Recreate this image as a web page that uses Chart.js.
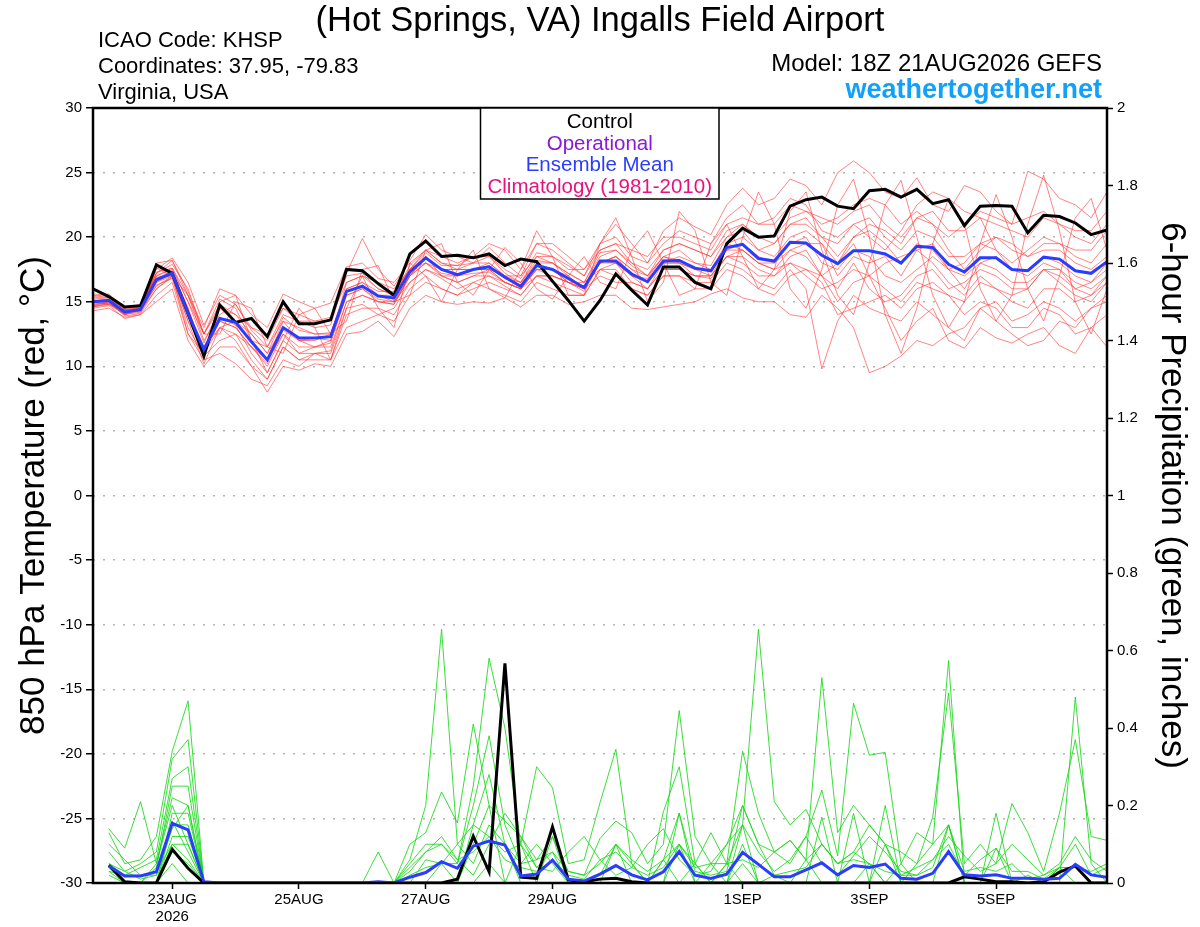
<!DOCTYPE html>
<html>
<head>
<meta charset="utf-8">
<title>KHSP GEFS plume</title>
<script src="https://cdn.jsdelivr.net/npm/chart.js@4.4.1/dist/chart.umd.min.js"></script>
<style>
  body { margin: 0; background: #fff; }
  #wrap { position: relative; width: 1200px; height: 927px; font-family: "Liberation Sans", Arial, sans-serif; }
  #wrap canvas { position: absolute; left: 0; top: 0; }
  .t { position: absolute; line-height: 1; white-space: nowrap; color: #000; }
</style>
</head>
<body>
<div id="wrap">
  <canvas id="plume" width="1200" height="927"></canvas>
  <div class="t" style="left:0;width:1200px;text-align:center;top:2px;font-size:34.5px">(Hot Springs, VA) Ingalls Field Airport</div>
  <div class="t" style="left:98px;top:29px;font-size:22px">ICAO Code: KHSP</div>
  <div class="t" style="left:98px;top:55px;font-size:22px">Coordinates: 37.95, -79.83</div>
  <div class="t" style="left:98px;top:81px;font-size:22px">Virginia, USA</div>
  <div class="t" style="right:98px;top:51px;font-size:24px">Model: 18Z 21AUG2026 GEFS</div>
  <div class="t" style="right:98px;top:76px;font-size:27px;font-weight:bold;color:#12a0f8">weathertogether.net</div>
</div>
<script>
// forecast hours from 18Z 21AUG2026, every 6 h
var forecastHours = [0,6,12,18,24,30,36,42,48,54,60,66,72,78,84,90,96,102,108,114,
  120,126,132,138,144,150,156,162,168,174,180,186,192,198,204,210,216,222,228,234,
  240,246,252,258,264,270,276,282,288,294,300,306,312,318,324,330,336,342,348,354,
  360,366,372,378,384];

var tickHours = [30, 78, 126, 174, 246, 294, 342];
var tickLabels = [['23AUG', '2026'], '25AUG', '27AUG', '29AUG', '1SEP', '3SEP', '5SEP'];
var tempTicks = [-30, -25, -20, -15, -10, -5, 0, 5, 10, 15, 20, 25, 30];
var precipTicks = [0, 0.2, 0.4, 0.6, 0.8, 1, 1.2, 1.4, 1.6, 1.8, 2];

// 850 hPa temperature (C)
var tempControl = [16.0,15.4,14.6,14.7,17.85,17.2,14.1,10.8,14.75,13.4,
  13.7,12.3,15.0,13.3,13.3,13.6,17.5,17.4,16.4,15.5,
  18.7,19.7,18.5,18.6,18.4,18.7,17.8,18.3,18.1,16.6,
  15.1,13.5,15.1,17.15,15.9,14.75,17.7,17.7,16.5,16.0,
  19.5,20.7,20.0,20.1,22.4,22.9,23.1,22.4,22.2,23.6,
  23.7,23.1,23.7,22.6,22.9,20.9,22.4,22.45,22.4,20.35,
  21.7,21.6,21.1,20.2,20.55];
var tempMean = [15.0,15.1,14.2,14.4,16.7,17.2,14.1,11.3,13.7,13.4,
  11.9,10.5,13.0,12.2,12.2,12.3,15.8,16.2,15.45,15.3,
  17.3,18.4,17.5,17.1,17.5,17.7,16.9,16.2,17.8,17.5,
  16.8,16.1,18.15,18.15,17.15,16.55,18.15,18.2,17.6,17.4,
  19.2,19.45,18.35,18.15,19.6,19.55,18.6,17.95,18.95,18.95,
  18.7,18.0,19.3,19.2,17.9,17.3,18.4,18.4,17.5,17.4,
  18.45,18.3,17.4,17.2,18.1];
var tempMembers = [
  [15.3,15.4,14.5,14.6,17.5,18.4,16.5,13.2,15.5,14.8, 13.0,12.0,14.5,13.5,13.0,13.2,17.2,19.9,17.5,16.2,
   18.2,20.2,19.0,18.5,18.0,19.2,18.0,17.0,19.5,19.0, 18.0,17.0,19.5,21.0,19.5,18.0,20.5,21.5,20.8,20.2,
   22.5,23.8,22.5,23.0,24.5,24.0,22.5,25.0,25.9,25.0, 23.5,23.0,24.6,22.5,22.0,24.0,23.5,22.0,21.0,25.1,
   24.5,23.0,22.5,21.5,23.5],
  [14.6,14.9,14.0,14.2,16.3,16.8,13.0,10.8,12.0,12.5, 10.5,9.0,11.5,10.5,11.0,11.0,14.5,14.8,14.0,14.5,
   16.5,17.5,16.8,16.0,16.5,17.0,16.2,15.5,17.0,16.5, 16.0,15.5,17.5,17.0,16.0,15.5,17.0,17.0,16.5,16.5,
   18.0,17.5,16.5,16.0,17.5,16.0,9.8,13.5,15.5,14.5, 14.0,13.5,15.0,14.0,13.0,12.0,14.5,15.0,13.5,14.0,
   15.0,14.5,13.5,14.5,15.0],
  [15.1,15.2,14.3,14.6,17.0,17.6,15.0,11.8,14.5,14.0, 12.5,11.0,13.8,12.8,12.5,12.6,16.0,16.5,15.8,15.8,
   17.5,18.8,17.8,17.8,18.5,18.5,17.2,16.5,18.5,18.0, 17.2,16.5,18.8,19.0,18.0,17.0,18.5,19.0,18.0,17.8,
   20.0,20.5,19.0,19.5,21.0,21.5,20.0,18.5,20.0,21.0, 20.5,19.5,21.5,21.0,19.0,17.5,19.0,20.0,19.0,18.5,
   19.5,19.5,18.5,18.0,19.5],
  [14.8,15.0,13.9,14.1,16.0,16.9,13.5,10.2,13.0,12.0, 10.0,8.0,10.0,9.7,10.2,10.0,12.5,12.7,13.5,12.3,
   14.5,15.5,15.0,14.8,15.0,14.9,15.3,14.6,15.5,15.5, 14.8,15.0,15.5,15.5,14.5,14.4,14.6,14.8,15.0,15.6,
   16.0,15.3,15.0,15.0,14.0,13.8,15.5,14.5,13.0,9.5, 10.0,10.8,12.0,11.6,12.5,13.0,14.5,13.5,12.5,11.6,
   12.0,13.5,13.0,14.5,15.5],
  [15.6,15.5,14.6,14.7,17.2,17.9,16.0,12.5,15.2,14.5, 12.0,10.5,13.5,12.0,11.5,11.8,15.5,16.0,15.0,14.8,
   17.0,18.5,17.0,16.5,17.0,17.5,16.5,16.0,17.5,17.0, 16.5,15.8,18.0,18.5,17.5,16.5,18.0,18.5,18.0,17.5,
   19.5,19.0,18.0,17.5,19.0,19.5,19.5,17.0,18.5,18.0, 18.5,17.0,19.0,19.5,17.5,16.0,18.0,17.5,16.5,16.5,
   17.5,17.5,16.0,16.5,17.5],
  [14.9,15.1,14.2,14.4,16.8,17.4,14.5,11.0,13.5,13.0, 11.5,10.0,12.5,11.0,11.5,12.0,16.5,17.0,16.5,16.0,
   17.5,18.0,17.5,17.5,17.5,18.0,17.0,16.0,18.0,17.5, 17.0,16.0,18.2,18.0,17.0,16.8,18.5,18.2,17.5,17.5,
   19.0,19.5,18.5,18.0,19.5,20.0,18.0,17.5,19.0,18.5, 17.0,16.5,17.5,18.5,17.5,18.0,19.5,19.0,17.5,17.0,
   18.0,17.5,16.5,16.0,17.0],
  [14.5,14.7,13.7,14.0,15.5,16.5,12.5,10.5,11.0,10.2, 9.0,8.5,10.5,10.0,11.0,10.5,14.0,14.5,14.5,14.0,
   16.0,17.0,16.0,15.5,16.0,16.5,16.0,15.5,17.0,17.0, 16.5,16.0,17.0,16.5,16.5,16.0,17.5,17.5,17.0,17.0,
   18.5,19.0,18.0,17.5,18.0,17.0,16.0,16.5,17.5,17.0, 18.0,18.5,19.0,18.0,16.5,15.5,17.0,16.0,15.5,16.0,
   17.5,16.5,15.5,15.0,16.5],
  [15.2,15.3,14.4,14.5,17.3,17.6,15.5,12.0,14.0,14.8, 12.8,11.5,13.5,13.0,12.5,12.5,15.8,16.2,15.5,15.5,
   17.5,18.5,17.5,17.0,17.5,17.8,16.8,16.5,18.2,18.0, 17.2,16.5,18.5,19.0,17.8,17.0,19.0,19.5,19.0,18.5,
   20.0,21.0,20.0,20.0,21.5,22.0,21.5,21.0,22.0,22.5, 21.0,20.0,21.5,22.0,20.5,20.5,21.5,21.0,20.5,20.0,
   21.5,21.0,20.0,19.5,21.0],
  [14.7,14.8,14.0,14.3,16.5,17.0,14.0,11.5,13.8,13.2, 11.0,9.5,12.0,11.0,11.0,11.2,15.0,15.5,15.0,14.8,
   17.0,18.0,17.2,17.0,17.2,17.3,16.5,16.0,17.5,17.5, 16.5,16.0,18.0,18.5,17.0,16.0,18.0,18.0,17.5,17.0,
   19.0,19.0,18.0,18.0,19.0,18.5,17.0,15.0,16.5,17.0, 16.0,15.0,16.5,16.0,15.5,15.0,16.5,16.0,15.0,14.5,
   16.0,16.0,15.0,15.5,16.5],
  [15.4,15.6,14.5,14.8,18.0,18.2,15.5,13.0,16.0,15.5, 14.0,13.0,15.6,15.0,14.5,14.9,17.7,18.0,16.8,16.5,
   18.0,19.0,18.0,17.5,17.5,17.5,17.0,17.0,18.5,18.5, 17.5,17.5,19.0,19.5,19.0,18.5,20.0,20.0,19.5,19.0,
   21.0,21.5,21.0,21.0,22.5,22.0,21.0,21.5,22.5,23.0, 22.5,21.0,22.0,21.0,20.0,21.0,22.0,21.5,21.0,21.5,
   22.0,21.0,20.5,20.5,22.0],
  [14.3,14.5,13.8,14.0,15.0,16.0,12.0,10.0,11.5,11.5, 10.0,9.0,11.5,10.5,10.5,10.5,13.0,13.5,14.0,13.5,
   15.5,16.5,16.0,15.5,16.5,16.0,15.5,15.0,16.5,16.0, 15.5,15.5,17.5,17.5,16.0,15.5,17.0,17.0,16.0,16.0,
   17.5,17.0,16.0,15.5,17.0,17.5,16.5,14.0,14.5,15.0, 15.5,14.5,16.0,16.5,15.5,14.0,15.0,14.5,13.0,13.0,
   14.5,14.0,12.5,13.0,14.0],
  [15.0,15.2,14.3,14.5,17.2,18.2,15.8,12.5,14.5,13.5, 12.0,11.5,14.0,13.5,13.5,13.5,17.0,17.2,16.0,15.5,
   17.8,19.0,18.5,18.0,18.5,19.5,19.0,17.5,19.5,19.5, 18.5,17.5,19.5,20.0,18.5,18.0,19.5,20.5,20.0,19.5,
   21.5,22.5,21.0,21.5,23.0,22.5,20.5,20.0,21.0,20.0, 19.0,20.5,22.5,23.5,23.0,22.0,21.5,19.0,18.0,19.0,
   20.0,19.5,19.0,19.0,20.5],
  [14.6,14.8,14.1,14.3,16.0,17.0,13.5,11.5,13.0,12.5, 11.5,10.5,12.5,11.5,11.5,11.5,15.0,15.5,15.0,15.0,
   16.5,17.5,17.0,16.5,17.0,17.0,16.5,16.0,17.0,17.0, 16.5,16.5,17.5,18.0,16.5,16.0,17.5,17.5,17.0,17.0,
   18.5,18.5,17.5,17.0,18.5,19.0,17.0,18.0,19.5,17.0, 14.5,12.0,13.5,14.5,12.0,11.4,13.0,12.2,11.8,12.5,
   13.0,11.6,11.0,13.0,11.5],
  [15.5,15.3,14.4,14.6,17.0,17.5,15.0,12.5,14.8,14.0, 13.0,12.5,14.5,14.0,13.5,13.8,16.5,17.0,16.0,15.5,
   17.5,19.0,18.0,17.8,18.0,18.5,17.5,16.8,18.8,18.5, 17.8,17.0,19.0,19.5,18.0,17.5,19.0,19.5,19.0,18.5,
   20.5,21.0,20.0,19.5,21.0,21.0,20.0,19.5,21.0,21.5, 20.0,19.0,20.5,20.0,18.5,18.5,19.5,20.0,19.5,18.5,
   19.0,19.0,18.0,17.5,18.5],
  [14.8,14.9,14.2,14.4,16.5,17.3,14.5,11.0,13.0,13.5, 12.5,11.0,13.0,12.0,12.0,12.5,16.0,16.5,15.5,15.0,
   17.0,18.5,17.5,17.5,18.0,18.0,17.0,16.5,18.0,18.0, 17.0,16.0,18.0,18.5,17.5,17.0,18.5,18.0,17.5,17.5,
   19.5,20.0,19.0,18.5,20.0,20.5,19.5,18.0,20.0,20.5, 19.5,18.0,19.5,19.0,17.5,17.0,18.0,18.5,17.5,17.5,
   18.5,18.0,17.0,16.5,18.0],
  [15.1,15.0,14.1,14.4,16.9,17.0,13.8,11.2,13.5,13.0, 11.5,10.2,12.8,12.0,12.2,12.0,15.5,16.0,15.2,15.0,
   17.0,18.0,17.0,17.0,17.5,17.5,16.5,16.0,17.5,17.5, 16.5,16.0,18.0,18.0,17.0,16.5,18.0,18.0,17.0,16.8,
   18.5,18.0,17.0,17.0,18.0,17.5,17.0,16.0,18.0,16.0, 15.0,15.5,17.0,17.5,16.0,16.5,17.5,17.0,16.0,16.0,
   17.5,17.0,16.0,15.5,17.0],
  [14.7,15.0,14.0,14.5,16.2,17.0,15.5,12.5,12.5,15.0, 14.5,11.5,11.0,14.0,14.5,12.5,13.5,17.5,17.8,15.0,
   15.5,19.0,19.5,16.5,15.5,17.5,19.2,18.0,16.0,15.2, 17.0,18.5,16.5,16.0,19.0,20.5,18.0,15.5,16.0,19.5,
   21.0,18.5,16.0,17.5,22.0,23.5,19.0,15.5,14.0,18.0, 22.5,24.4,20.0,15.5,13.0,15.0,19.5,23.3,20.0,16.0,
   13.5,17.0,21.5,23.0,19.0],
  [15.0,14.8,14.4,14.2,17.6,17.0,12.5,11.0,15.0,15.5, 12.0,9.5,12.0,14.5,13.0,10.5,14.5,17.0,14.5,13.0,
   18.0,17.0,15.0,17.5,19.0,16.0,15.3,17.5,20.5,18.5, 15.5,15.5,19.5,21.5,18.5,15.0,16.5,22.0,20.5,16.5,
   15.5,20.0,23.5,21.0,16.0,14.5,17.5,22.5,24.5,20.0, 14.0,11.0,14.5,19.5,23.0,21.0,16.0,13.5,15.5,21.0,
   24.8,20.5,15.0,12.5,16.0]
];

// 6-hour precipitation (inches); no value at the analysis time
var precipControl = [null,.046,.003,0,0,.087,.038,0,0,0, 0,0,0,0,0,0,0,0,0,0,
  0,0,0,.01,.121,.029,.567,.015,.012,.145, .008,.003,.01,.012,.003,0,0,0,0,0,
  0,0,0,0,0,0,0,0,0,0, 0,0,0,0,0,.016,.01,.003,.003,0, .003,.028,.044,0,0];
var precipMean = [null,.044,.018,.018,.029,.154,.137,.003,0,0, 0,0,0,0,0,0,0,0,.003,0,
  .015,.027,.055,.038,.095,.108,.098,.018,.023,.059, .01,.005,.023,.045,.021,.008,.029,.081,.02,.012,
  .023,.079,.048,.016,.016,.034,.052,.021,.045,.04, .049,.012,.01,.025,.081,.021,.018,.021,.012,.012,
  .01,.012,.048,.021,.015];
var precipMembers = [
  [null,.14,.09,.21,.05,.20,.10,0,0,0, 0,0,0,0,0,0,0,0,0,0, .06,.20,.655,.10,.05,.15,.10,.05,.10,.05,
   0,0,.02,.10,.05,0,.06,.10,.05,0, .05,.15,.655,.21,.15,.19,.10,.05,.08,.05, 0,0,.05,.10,.15,0,0,.09,0,.02,
   0,.04,.04,0,0],
  [null,.13,.05,.06,.12,.34,.47,0,0,0, 0,0,0,0,0,0,0,0,0,0, .10,.13,.235,.155,.41,.20,.16,.12,.06,.12,
   .03,.02,.115,.16,.13,.05,.10,.445,.12,.05, .10,.20,.10,.08,.11,.06,.53,.13,.20,.15, .10,.08,.05,.17,.49,.05,.10,.05,.205,.13,
   .03,.18,.37,.12,.11],
  [null,.08,.03,.05,.08,.32,.37,0,0,0, 0,0,0,0,0,0,0,0,0,0, .05,.10,.10,.05,.25,.58,.40,.10,.30,.246,
   .05,.06,.207,.345,.05,0,.184,.30,.05,.13, .05,.34,.18,.08,.05,.12,.24,.07,.464,.33, .337,.05,.13,.10,.574,0,0,.18,0,0,
   0,0,.48,.05,0],
  [null,.05,.02,.04,.06,.27,.30,0,0,0, 0,0,0,0,0,0,0,0,.08,0, 0,.06,.05,.05,.20,.38,.15,.05,.06,.08,
   0,0,0,.10,0,0,0,.18,0,.05, 0,.15,0,0,0,0,.17,0,.18,0, .20,0,0,0,0,0,0,0,0,0,
   0,0,0,0,0],
  [null,.04,0,0,.04,.25,.25,0,0,0, 0,0,0,0,0,0,0,0,0,0, 0,0,.05,0,.15,.28,.10,0,0,.12,
   0,0,0,0,0,0,0,.10,0,0, 0,.10,0,0,0,0,0,0,0,.05, 0,0,0,0,.15,0,0,0,0,0,
   0,0,0,0,0],
  [null,.03,0,0,.05,.22,.20,0,0,0, 0,0,0,0,0,0,0,0,0,0, 0,0,0,0,.10,.20,0,.10,0,0,
   0,0,0,0,0,0,0,0,0,0, 0,.05,0,0,0,0,0,0,0,0, .10,0,0,0,0,0,0,0,0,0,
   0,0,0,0,0],
  [null,.02,0,0,0,.18,.18,0,0,0, 0,0,0,0,0,0,0,0,0,0, 0,0,0,0,0,.05,0,0,0,0,
   0,0,0,0,0,0,0,0,0,0, 0,0,0,.02,0,0,0,0,0,0, 0,0,0,0,0,0,0,0,0,0,
   0,0,0,0,0],
  [null,0,0,0,0,.15,.15,0,0,0, 0,0,0,0,0,0,0,0,0,0, 0,0,0,0,0,0,0,0,0,0,
   0,0,0,0,0,0,.06,0,0,0, 0,0,0,0,0,.06,0,0,0,0, 0,0,0,0,0,0,0,0,0,0,
   0,.04,0,0,0],
  [null,0,0,0,0,.12,.12,0,0,0, 0,0,0,0,0,0,0,0,0,0, 0,0,0,0,0,0,0,0,0,0,
   0,0,0,0,0,0,0,0,.05,0, 0,0,0,0,0,0,0,0,0,0, 0,.05,0,0,0,0,0,0,0,0,
   0,0,0,0,0],
  [null,0,0,0,0,.10,.10,0,0,0, 0,0,0,0,0,0,0,0,0,0, 0,0,0,0,0,0,0,0,0,0,
   0,0,0,0,0,0,0,0,0,0, .05,0,0,0,0,0,0,0,0,0, 0,0,0,0,0,0,0,0,0,0,
   0,0,0,0,0],
  [null,0,0,0,0,.08,.05,0,0,0, 0,0,0,0,0,0,0,0,0,0, 0,0,0,0,0,0,0,0,0,0,
   0,0,0,0,0,0,0,0,0,0, 0,0,0,0,0,0,0,0,0,0, 0,0,0,0,0,0,0,0,0,0,
   0,0,0,0,0],
  [null,0,0,0,0,.05,0,0,0,0, 0,0,0,0,0,0,0,0,0,0, 0,0,0,0,0,0,0,0,0,0,
   0,0,0,0,0,0,0,0,0,0, 0,0,0,0,0,0,0,0,0,0, 0,0,0,0,0,0,0,0,0,0,
   0,0,0,0,0],
  [null,.03,.02,.02,.03,.10,.06,0,0,0, 0,0,0,0,0,0,0,0,0,0, .04,.08,.10,.06,.08,.12,.06,.04,.03,.06,
   .02,.01,.06,.08,.04,.02,.04,.10,.04,.05, .05,.06,.04,.08,.11,.06,.10,.05,.06,.05, .03,.02,.04,.06,.10,.02,.06,.09,.03,.03,
   .01,.04,.04,.03,.05],
  [null,.05,.03,.01,.02,.14,.20,0,0,0, 0,0,0,0,0,0,0,0,0,0, .02,.04,.05,.10,.15,.12,.08,.10,.04,.08,
   .03,.02,.05,.10,.06,.03,.06,.18,.03,.02, .03,.20,.10,.02,.03,.04,.10,.05,.08,.15, .10,.02,.02,.04,.15,.03,.04,.03,.05,.01,
   .02,.04,.10,.02,.04],
  [null,.10,.06,.02,.02,.16,.08,0,0,0, 0,0,0,0,0,0,0,0,0,0, .03,.08,.12,.06,.02,.10,.18,.12,.04,.03,
   .08,.12,.06,.02,.04,.10,.14,.06,.02,.03, .10,.15,.08,.03,.06,.12,.05,.02,.07,.12, .08,.03,.02,.06,.12,.07,.03,.05,.10,.06,
   .02,.05,.12,.06,.03]
];

var fontFamily = '"Liberation Sans", Arial, sans-serif';

var datasets = [];
tempMembers.forEach(function (values) {
    datasets.push({ data: values, yAxisID: 'y', borderColor: 'rgba(255,50,50,0.6)', borderWidth: 1, order: 10 });
});
precipMembers.forEach(function (values) {
    datasets.push({ data: values, yAxisID: 'y1', borderColor: 'rgba(25,215,25,0.85)', borderWidth: 1, order: 10 });
});
datasets.push({ data: precipControl, yAxisID: 'y1', borderColor: '#000', borderWidth: 3, order: 3 });
datasets.push({ data: precipMean, yAxisID: 'y1', borderColor: '#2a3dff', borderWidth: 3, order: 2 });
datasets.push({ data: tempControl, yAxisID: 'y', borderColor: '#000', borderWidth: 3, order: 1 });
datasets.push({ data: tempMean, yAxisID: 'y', borderColor: '#2a3dff', borderWidth: 3, order: 0 });

// thick frame round the plot and the legend box at the top
var framePlugin = {
    id: 'framePlugin',
    afterDraw: function (chart) {
        var ctx = chart.ctx;
        var a = chart.chartArea;
        ctx.save();
        ctx.strokeStyle = '#000';
        ctx.lineWidth = 2.5;
        ctx.strokeRect(a.left, a.top, a.right - a.left, a.bottom - a.top);

        var bx = 480.5, by = a.top, bw = 238.5, bh = 91;
        ctx.fillStyle = '#fff';
        ctx.fillRect(bx, by, bw, bh);
        ctx.lineWidth = 1.5;
        ctx.strokeRect(bx, by, bw, bh);

        var lines = [
            ['Control', '#000'],
            ['Operational', '#8a18d6'],
            ['Ensemble Mean', '#2a3dff'],
            ['Climatology (1981-2010)', '#e8117f']
        ];
        ctx.font = '20.5px ' + fontFamily;
        ctx.textAlign = 'center';
        ctx.textBaseline = 'alphabetic';
        lines.forEach(function (l, i) {
            ctx.fillStyle = l[1];
            ctx.fillText(l[0], bx + bw / 2, by + 20 + i * 21.7);
        });
        ctx.restore();
    }
};

var ctx = document.getElementById('plume').getContext('2d');
var plume = new Chart(ctx, {
    type: 'line',
    data: { labels: forecastHours, datasets: datasets },
    options: {
        responsive: false,
        animation: false,
        layout: { padding: { top: 108, left: 0, right: 0, bottom: 0 } },
        plugins: { legend: { display: false }, tooltip: { enabled: false } },
        elements: { point: { radius: 0 }, line: { tension: 0 } },
        scales: {
            x: {
                type: 'linear', min: 0, max: 384,
                afterFit: function (s) { s.height = 44; },
                afterBuildTicks: function (s) { s.ticks = tickHours.map(function (v) { return { value: v }; }); },
                border: { display: false },
                grid: { drawOnChartArea: false, tickLength: 6, tickColor: '#000', tickWidth: 1.5 },
                ticks: {
                    color: '#000', padding: 3, maxRotation: 0, autoSkip: false,
                    font: { family: fontFamily, size: 15, lineHeight: 1.1 },
                    callback: function (v) { return tickLabels[tickHours.indexOf(v)]; }
                }
            },
            y: {
                position: 'left', min: -30, max: 30,
                afterFit: function (s) { s.width = 93; },
                afterBuildTicks: function (s) { s.ticks = tempTicks.map(function (v) { return { value: v }; }); },
                border: { display: false, dash: [2, 8] },
                grid: { color: '#b4b4b4', lineWidth: 1.5, tickColor: '#000', tickBorderDash: [], tickLength: 7, tickWidth: 1.5 },
                ticks: { color: '#000', padding: 4, font: { family: fontFamily, size: 15 } },
                title: { display: true, text: '850 hPa Temperature (red, °C)', color: '#000', font: { family: fontFamily, size: 35 }, padding: { top: 13, bottom: 0 } }
            },
            y1: {
                position: 'right', min: 0, max: 2,
                afterFit: function (s) { s.width = 93; },
                afterBuildTicks: function (s) { s.ticks = precipTicks.map(function (v) { return { value: v }; }); },
                border: { display: false },
                grid: { drawOnChartArea: false, tickColor: '#000', tickLength: 6, tickWidth: 1.5 },
                ticks: {
                    color: '#000', padding: 4, font: { family: fontFamily, size: 15 },
                    callback: function (v) { return String(Math.round(v * 10) / 10); }
                },
                title: { display: true, text: '6-hour Precipitation (green, inches)', color: '#000', font: { family: fontFamily, size: 35 }, padding: { top: 7, bottom: 0 } }
            }
        }
    },
    plugins: [framePlugin]
});
</script>
</body>
</html>
